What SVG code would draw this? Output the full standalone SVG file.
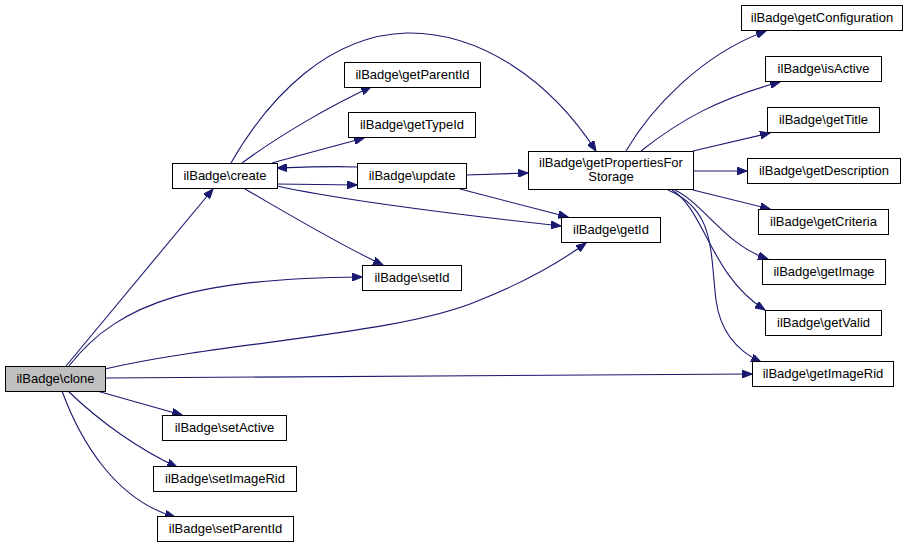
<svg xmlns="http://www.w3.org/2000/svg" width="911" height="549" viewBox="0 0 911 549">
<style>
.n rect{fill:#fff;stroke:#000;stroke-width:1}
.n text{font-family:"Liberation Sans",Arial,sans-serif;font-size:13px;text-anchor:middle;fill:#000}
#edges path{fill:none;stroke:#191970;stroke-width:1.1;marker-end:url(#ah)}
</style>
<defs>
<marker id="ah" markerUnits="userSpaceOnUse" markerWidth="11" markerHeight="8" refX="10" refY="4" orient="auto">
<path d="M0,0 L10,4 L0,8 z" fill="#191970" stroke="#191970" stroke-width="1"/>
</marker>
</defs>
<rect width="911" height="549" fill="#fff"/>
<g id="edges">
<path d="M66,366 L213,189"/>
<path d="M69,366 C120,300 200,278 362,277"/>
<path d="M105,369 C220,342 400,335 480,300 C530,280 560,262 586,243"/>
<path d="M105,378 L752,374"/>
<path d="M97,391 L182,415"/>
<path d="M68,391 C100,422 140,450 177,467"/>
<path d="M62,391 C80,440 115,500 175,517"/>
<path d="M231,163 C270,95 330,35 407,33 C480,32 550,80 596,151"/>
<path d="M242,163 C280,135 330,106 371,87"/>
<path d="M272,163 C300,155 335,146 364,138"/>
<path d="M357,167 C330,166 305,167 277,168"/>
<path d="M277,184 L357,185"/>
<path d="M277,186 C350,202 470,216 561,226"/>
<path d="M245,189 C290,215 340,245 383,265"/>
<path d="M466,175 L528,173"/>
<path d="M460,189 L568,217"/>
<path d="M626,151 C650,110 700,55 766,31"/>
<path d="M641,151 C680,120 720,98 780,82"/>
<path d="M693,151 L770,133"/>
<path d="M693,171 L747,171"/>
<path d="M693,190 L770,209"/>
<path d="M675,190 C705,205 725,245 768,259"/>
<path d="M672,190 C705,210 710,275 765,310"/>
<path d="M668,190 C715,210 710,250 716,300 C720,330 735,350 761,362"/>
</g>
<g id="clone" class="n"><rect x="5.5" y="366.5" width="100" height="25" style="fill:#bfbfbf"/><text x="55.5" y="383">ilBadge\clone</text></g>
<g id="create" class="n"><rect x="172.5" y="163.5" width="105" height="25"/><text x="225" y="180">ilBadge\create</text></g>
<g id="getParentId" class="n"><rect x="344.5" y="62.5" width="136" height="25"/><text x="412.5" y="79">ilBadge\getParentId</text></g>
<g id="getTypeId" class="n"><rect x="348.5" y="112.5" width="127" height="25"/><text x="412" y="129">ilBadge\getTypeId</text></g>
<g id="update" class="n"><rect x="357.5" y="163.5" width="109" height="25"/><text x="412" y="180">ilBadge\update</text></g>
<g id="getPropertiesForStorage" class="n"><rect x="528.5" y="151.5" width="165" height="38"/><text x="611" y="167">ilBadge\getPropertiesFor</text><text x="611" y="181">Storage</text></g>
<g id="getId" class="n"><rect x="561.5" y="217.5" width="99" height="25"/><text x="611" y="234">ilBadge\getId</text></g>
<g id="setId" class="n"><rect x="362.5" y="265.5" width="99" height="25"/><text x="412" y="282">ilBadge\setId</text></g>
<g id="getConfiguration" class="n"><rect x="741.5" y="5.5" width="161" height="25"/><text x="822" y="22">ilBadge\getConfiguration</text></g>
<g id="isActive" class="n"><rect x="765.5" y="56.5" width="116" height="25"/><text x="823.5" y="73">ilBadge\isActive</text></g>
<g id="getTitle" class="n"><rect x="767.5" y="107.5" width="112" height="25"/><text x="823.5" y="124">ilBadge\getTitle</text></g>
<g id="getDescription" class="n"><rect x="747.5" y="158.5" width="153" height="25"/><text x="824" y="175">ilBadge\getDescription</text></g>
<g id="getCriteria" class="n"><rect x="758.5" y="209.5" width="130" height="25"/><text x="823.5" y="226">ilBadge\getCriteria</text></g>
<g id="getImage" class="n"><rect x="762.5" y="259.5" width="123" height="25"/><text x="824" y="276">ilBadge\getImage</text></g>
<g id="getValid" class="n"><rect x="765.5" y="310.5" width="116" height="25"/><text x="823.5" y="327">ilBadge\getValid</text></g>
<g id="getImageRid" class="n"><rect x="752.5" y="361.5" width="141" height="25"/><text x="823" y="378">ilBadge\getImageRid</text></g>
<g id="setActive" class="n"><rect x="162.5" y="415.5" width="124" height="25"/><text x="224.5" y="432">ilBadge\setActive</text></g>
<g id="setImageRid" class="n"><rect x="153.5" y="466.5" width="143" height="25"/><text x="225" y="483">ilBadge\setImageRid</text></g>
<g id="setParentId" class="n"><rect x="157.5" y="516.5" width="136" height="25"/><text x="225.5" y="533">ilBadge\setParentId</text></g>
</svg>
